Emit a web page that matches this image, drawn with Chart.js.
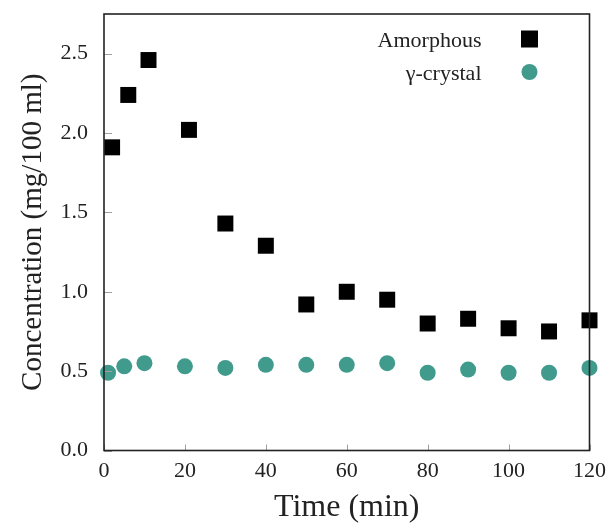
<!DOCTYPE html>
<html>
<head>
<meta charset="utf-8">
<script src="https://cdn.jsdelivr.net/npm/chart.js@4/dist/chart.umd.min.js"></script>
<style>
  html, body { margin: 0; padding: 0; background: #fff; }
  #wrap { width: 614px; height: 524px; }
</style>
</head>
<body>
<div id="wrap"><canvas id="concChart" width="614" height="524"></canvas></div>
<script>
// values
const amorphousTime = [2, 6, 11, 21, 30, 40, 50, 60, 70, 80, 90, 100, 110, 120];
const amorphousConc = [1.91, 2.24, 2.46, 2.02, 1.43, 1.29, 0.92, 1.0, 0.95, 0.8, 0.83, 0.77, 0.75, 0.82];
const crystalTime = [1, 5, 10, 20, 30, 40, 50, 60, 70, 80, 90, 100, 110, 120];
const crystalConc = [0.49, 0.53, 0.55, 0.53, 0.52, 0.54, 0.54, 0.54, 0.55, 0.49, 0.51, 0.49, 0.49, 0.52];
const xTicks = [0, 20, 40, 60, 80, 100, 120];
const yTicks = [0, 0.5, 1.0, 1.5, 2.0, 2.5];

const serif = "'Liberation Serif', 'Times New Roman', serif";
const teal = "#419b8c";

function toPoints(xs, ys) {
  return xs.map((x, i) => ({ x: x, y: ys[i] }));
}

// box around the plot + short inward ticks
const frame = {
  id: "frame",
  afterDatasetsDraw(chart) {
    const { ctx, chartArea: a, scales } = chart;
    ctx.save();
    ctx.strokeStyle = "#a0a0a0";
    ctx.lineWidth = 1;
    ctx.beginPath();
    xTicks.forEach((v) => {
      const px = Math.round(scales.x.getPixelForValue(v)) + 0.5;
      ctx.moveTo(px, a.bottom);
      ctx.lineTo(px, a.bottom - 6);
    });
    yTicks.forEach((v) => {
      const py = Math.round(scales.y.getPixelForValue(v)) + 0.5;
      ctx.moveTo(a.left, py);
      ctx.lineTo(a.left + 8, py);
    });
    ctx.stroke();
    ctx.strokeStyle = "#222";
    ctx.lineWidth = 1.6;
    ctx.strokeRect(a.left, a.top, a.right - a.left, a.bottom - a.top);
    ctx.restore();
  },
};

// legend in the top right corner, text to the left of the marker
const cornerLegend = {
  id: "cornerLegend",
  afterDraw(chart) {
    const { ctx, chartArea: a } = chart;
    const textX = a.right - 108;
    const markX = a.right - 60;
    ctx.save();
    ctx.font = "22px " + serif;
    ctx.textAlign = "right";
    ctx.textBaseline = "alphabetic";
    chart.data.datasets.forEach((ds, i) => {
      const y = a.top + 25 + i * 33;
      ctx.fillStyle = "#222";
      ctx.fillText(ds.label, textX, y + 8);
      ctx.fillStyle = ds.backgroundColor;
      if (ds.pointStyle === "rect") {
        ctx.fillRect(markX - 8.5, y - 8.5, 17, 17);
      } else {
        ctx.beginPath();
        ctx.arc(markX, y, 8, 0, Math.PI * 2);
        ctx.fill();
      }
    });
    ctx.restore();
  },
};

new Chart(document.getElementById("concChart"), {
  type: "scatter",
  data: {
    datasets: [
      {
        label: "Amorphous",
        data: toPoints(amorphousTime, amorphousConc),
        pointStyle: "rect",
        pointRadius: 11.3,
        backgroundColor: "#000",
        borderWidth: 0,
        clip: false,
      },
      {
        label: "\u03b3-crystal",
        data: toPoints(crystalTime, crystalConc),
        pointStyle: "circle",
        pointRadius: 8,
        backgroundColor: teal,
        borderWidth: 0,
        clip: false,
      },
    ],
  },
  options: {
    responsive: false,
    animation: false,
    events: [],
    layout: { padding: { top: 14, right: 22, left: 0, bottom: 0 } },
    plugins: {
      legend: { display: false },
      tooltip: { enabled: false },
    },
    scales: {
      x: {
        type: "linear",
        min: 0,
        max: 120,
        afterBuildTicks: (s) => { s.ticks = xTicks.map((v) => ({ value: v })); },
        afterFit: (s) => { s.height = 73.5; },
        grid: { display: false, drawTicks: false },
        border: { display: false },
        ticks: {
          color: "#222",
          padding: 8,
          font: { family: serif, size: 22 },
        },
        title: {
          display: true,
          text: "Time (min)",
          color: "#222",
          font: { family: serif, size: 32 },
          padding: { top: 0, bottom: -3 },
        },
      },
      y: {
        type: "linear",
        min: 0,
        max: 2.75,
        afterBuildTicks: (s) => { s.ticks = yTicks.map((v) => ({ value: v })); },
        afterFit: (s) => {
          s.width = 104;
          s.paddingTop = 0;
          s.paddingBottom = 0;
        },
        grid: { display: false, drawTicks: false },
        border: { display: false },
        ticks: {
          color: "#222",
          padding: 16,
          font: { family: serif, size: 22 },
          callback: (v) => v.toFixed(1),
        },
        title: {
          display: true,
          text: "Concentration (mg/100 ml)",
          color: "#222",
          font: { family: serif, size: 29 },
          padding: { top: 16, bottom: 0 },
        },
      },
    },
  },
  plugins: [frame, cornerLegend],
});
</script>
</body>
</html>
